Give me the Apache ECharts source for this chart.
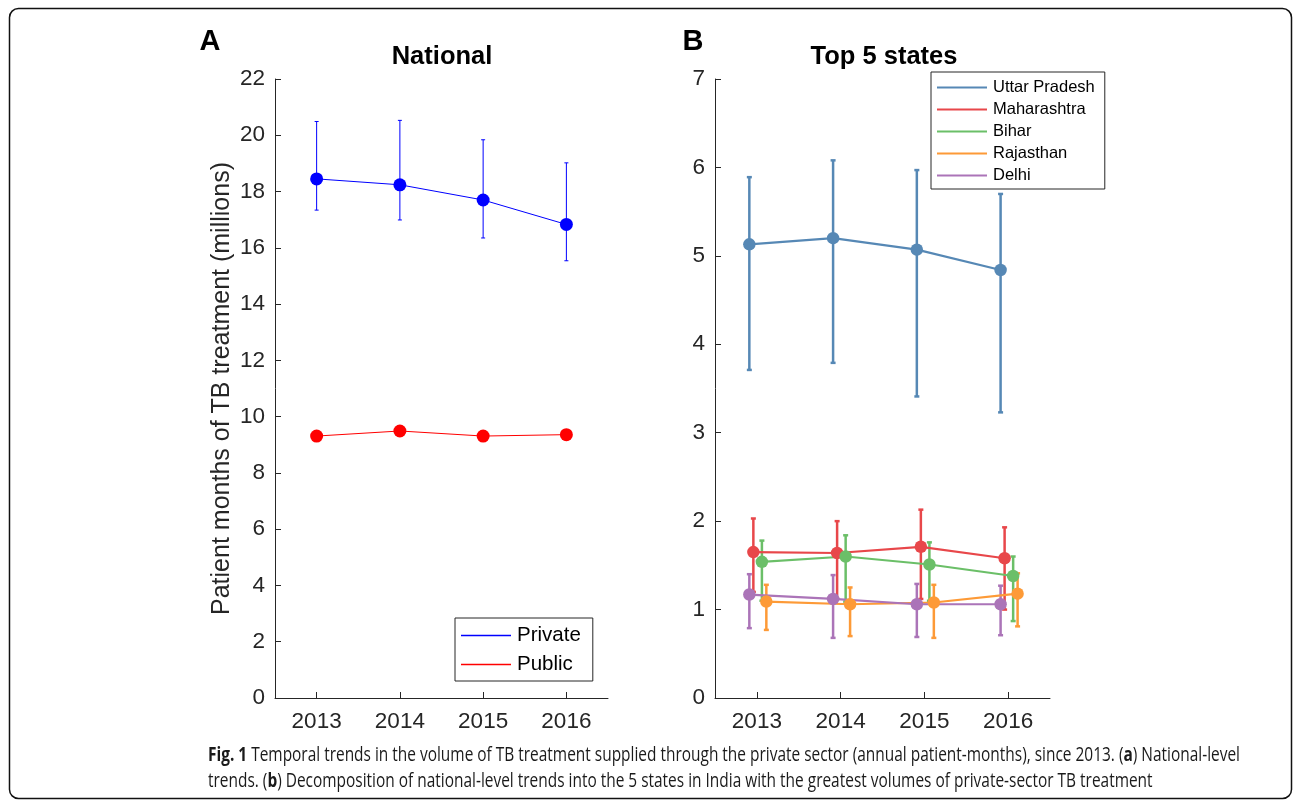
<!DOCTYPE html>
<html>
<head>
<meta charset="utf-8">
<script src="https://cdn.jsdelivr.net/npm/echarts@6/dist/echarts.min.js"></script>
<style>
html,body{margin:0;padding:0;background:#fff;}
#chart{width:1295px;height:801px;}
</style>
</head>
<body>
<div id="chart"></div>
<script>
// ---- data ----
const years = [2013, 2014, 2015, 2016];
const yTicksA = [0, 2, 4, 6, 8, 10, 12, 14, 16, 18, 20, 22];
const yTicksB = [0, 1, 2, 3, 4, 5, 6, 7];

const privateMean = [18.45, 18.24, 17.70, 16.83];
const privateLow  = [17.34, 16.99, 16.35, 15.54];
const privateHigh = [20.49, 20.53, 19.84, 19.02];
const publicMean  = [9.31, 9.49, 9.31, 9.36];

const upMean = [5.13, 5.20, 5.07, 4.84];
const upLow  = [3.71, 3.79, 3.41, 3.23];
const upHigh = [5.89, 6.08, 5.97, 5.70];

const mhMean = [1.65, 1.64, 1.71, 1.58];
const mhLow  = [1.20, 1.12, 1.12, 1.00];
const mhHigh = [2.03, 2.00, 2.13, 1.93];

const biMean = [1.54, 1.60, 1.51, 1.38];
const biLow  = [1.10, 1.09, 1.10, 0.87];
const biHigh = [1.78, 1.84, 1.76, 1.60];

const rjMean = [1.09, 1.06, 1.08, 1.18];
const rjLow  = [0.77, 0.70, 0.68, 0.81];
const rjHigh = [1.28, 1.25, 1.28, 1.41];

const dlMean = [1.17, 1.12, 1.06, 1.06];
const dlLow  = [0.79, 0.68, 0.69, 0.71];
const dlHigh = [1.40, 1.39, 1.29, 1.27];

const captionLine1 = ['Fig. 1', ' Temporal trends in the volume of TB treatment supplied through the private sector (annual patient-months), since 2013. (', 'a', ') National-level'];
const captionLine2 = ['trends. (', 'b', ') Decomposition of national-level trends into the 5 states in India with the greatest volumes of private-sector TB treatment'];

// ---- styling / layout ----
const FONT = '"Liberation Sans", Arial, Helvetica, sans-serif';
const CAPFONT = '"Open Sans", "DejaVu Sans", sans-serif';
const AXC = '#262626';
const states = [
  {name:'Uttar Pradesh', color:'#5688b5', mean:upMean, low:upLow, high:upHigh, off:-0.09},
  {name:'Maharashtra',   color:'#e8474a', mean:mhMean, low:mhLow, high:mhHigh, off:-0.042},
  {name:'Bihar',         color:'#6bbf68', mean:biMean, low:biLow, high:biHigh, off:0.06},
  {name:'Rajasthan',     color:'#fd9a37', mean:rjMean, low:rjLow, high:rjHigh, off:0.113},
  {name:'Delhi',         color:'#ab74b8', mean:dlMean, low:dlLow, high:dlHigh, off:-0.09}
];

function errSeries(name, idx, color, mean, low, high, off, lw, cap){
  return {
    type:'custom', name:name, xAxisIndex:idx, yAxisIndex:idx, z:2,
    silent:true, itemStyle:{color:color},
    data: years.map((y,i)=>[y+off, low[i], high[i]]),
    renderItem: function(params, api){
      const p1 = api.coord([api.value(0), api.value(1)]);
      const p2 = api.coord([api.value(0), api.value(2)]);
      const st = {stroke:color, lineWidth:lw};
      return {type:'group', children:[
        {type:'line', shape:{x1:p1[0],y1:p1[1],x2:p2[0],y2:p2[1]}, style:st},
        {type:'line', shape:{x1:p1[0]-cap,y1:p1[1],x2:p1[0]+cap,y2:p1[1]}, style:st},
        {type:'line', shape:{x1:p2[0]-cap,y1:p2[1],x2:p2[0]+cap,y2:p2[1]}, style:st}
      ]};
    }
  };
}
function lineSeries(name, idx, color, mean, off, lw, size){
  return {
    type:'line', name:name, xAxisIndex:idx, yAxisIndex:idx, z:3,
    data: years.map((y,i)=>[y+off, mean[i]]),
    symbol:'circle', symbolSize:size,
    lineStyle:{color:color, width:lw},
    itemStyle:{color:color},
    emphasis:{disabled:true}, animation:false
  };
}

const series = [];
series.push(lineSeries('Private', 0, '#0000ff', privateMean, 0, 1, 13));
series.push(lineSeries('Public', 0, '#ff0000', publicMean, 0, 1, 13));
series.push(errSeries('Private', 0, '#0000ff', privateMean, privateLow, privateHigh, 0, 1, 2));
states.forEach(s=>{
  series.push(lineSeries(s.name, 1, s.color, s.mean, s.off, 2.2, 12.5));
});
states.forEach(s=>{
  series.push(errSeries(s.name, 1, s.color, s.mean, s.low, s.high, s.off, 2.5, 2.5));
});

function xAxisDef(idx){
  return {
    type:'value', gridIndex:idx, min:2012.5, max:2016.5,
    axisLine:{show:true, onZero:false, lineStyle:{color:AXC, width:1}},
    axisTick:{show:true, inside:true, length:6, lineStyle:{color:AXC}, customValues:years},
    axisLabel:{color:AXC, fontFamily:FONT, fontSize:22.5, margin:12, customValues:years,
      formatter:v=>String(v)},
    splitLine:{show:false}
  };
}
function yAxisDef(idx, max, interval, ticks){
  return {
    type:'value', gridIndex:idx, min:0, max:max, interval:interval,
    axisLine:{show:true, lineStyle:{color:AXC, width:1}},
    axisTick:{show:true, inside:true, length:6, lineStyle:{color:AXC}},
    axisLabel:{color:AXC, fontFamily:FONT, fontSize:22.5, margin:10,
      formatter:v=>ticks.includes(v)?String(v):''},
    splitLine:{show:false}
  };
}

const yA = yAxisDef(0, 22, 2, yTicksA);
yA.name = 'Patient months of TB treatment (millions)';
yA.nameLocation = 'middle';
yA.nameGap = 40;
yA.nameRotate = 90;
yA.nameTextStyle = {color:AXC, fontFamily:FONT, fontSize:25};

// caption horizontal condensing (the original uses a condensed face)
const mctx = document.createElement('canvas').getContext('2d');
function segWidth(parts, boldIdx, size){
  let w = 0;
  parts.forEach((p,i)=>{
    mctx.font = (boldIdx.includes(i)?'bold ':'') + size + 'px ' + CAPFONT;
    w += mctx.measureText(p).width;
  });
  return w;
}
const CAPSIZE = 19.5;
const capScale = 1032 / segWidth(captionLine1, [0,2], CAPSIZE);

function richCaption(parts, boldIdx){
  return parts.map((p,i)=> boldIdx.includes(i) ? '{b|'+p+'}' : '{n|'+p+'}').join('');
}
const capRich = {
  b:{fontFamily:CAPFONT, fontWeight:'bold', fontSize:CAPSIZE, fill:'#1a1a1a'},
  n:{fontFamily:CAPFONT, fontWeight:'normal', fontSize:CAPSIZE, fill:'#1a1a1a'}
};

const option = {
  animation:false,
  backgroundColor:'#ffffff',
  grid:[
    {left:275, top:79, width:333, height:619},
    {left:715, top:79, width:335, height:619}
  ],
  xAxis:[xAxisDef(0), xAxisDef(1)],
  yAxis:[yA, yAxisDef(1, 7, 1, yTicksB)],
  legend:[
    {
      data:['Private','Public'], orient:'vertical', left:455, top:618,
      icon:'rect', itemWidth:50, itemHeight:1.5, itemGap:8,
      padding:[7,12,6,6],
      borderColor:AXC, borderWidth:1, backgroundColor:'#fff',
      textStyle:{color:'#000', fontFamily:FONT, fontSize:20.5, padding:[0,0,0,1]},
      selectedMode:false
    },
    {
      data:states.map(s=>s.name), orient:'vertical', left:931, top:72,
      icon:'rect', itemWidth:50, itemHeight:2, itemGap:5,
      padding:[7,10,5,6],
      borderColor:AXC, borderWidth:1, backgroundColor:'#fff',
      textStyle:{color:'#000', fontFamily:FONT, fontSize:16.5, padding:[0,0,0,1]},
      selectedMode:false
    }
  ],
  graphic:[
    {type:'rect', shape:{x:9.5, y:8.5, width:1282, height:790, r:9},
      style:{fill:'none', stroke:'#111', lineWidth:1.5}, z:-1},
    {type:'text', x:210, y:42, style:{text:'A', font:'bold 29px '+FONT, fill:'#000', align:'center', verticalAlign:'middle'}},
    {type:'text', x:442, y:57, style:{text:'National', font:'bold 25.5px '+FONT, fill:'#000', align:'center', verticalAlign:'middle'}},
    {type:'text', x:693, y:42, style:{text:'B', font:'bold 29px '+FONT, fill:'#000', align:'center', verticalAlign:'middle'}},
    {type:'text', x:884, y:57, style:{text:'Top 5 states', font:'bold 25.5px '+FONT, fill:'#000', align:'center', verticalAlign:'middle'}},
    {type:'text', x:208, y:755, scaleX:capScale, style:{
      text:richCaption(captionLine1,[0,2]), verticalAlign:'middle', rich:capRich}},
    {type:'text', x:208, y:781, scaleX:capScale, style:{
      text:richCaption(captionLine2,[1]), verticalAlign:'middle', rich:capRich}}
  ],
  series:series
};

const chart = echarts.init(document.getElementById('chart'), null, {renderer:'canvas'});
chart.setOption(option);
</script>
</body>
</html>
